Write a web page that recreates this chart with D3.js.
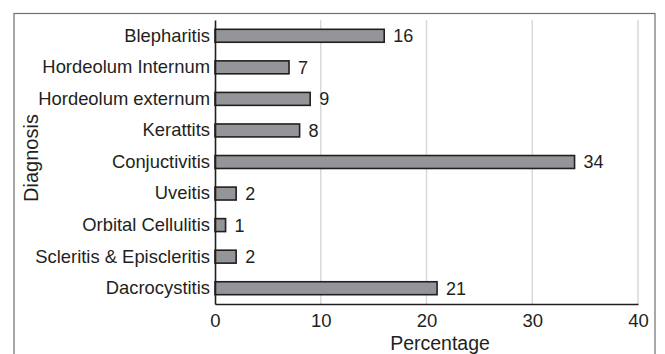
<!DOCTYPE html>
<html><head><meta charset="utf-8">
<script src="https://cdn.jsdelivr.net/npm/d3@7"></script>
<style>body{margin:0;background:#fff}svg{display:block}text{font-family:"Liberation Sans",Arial,sans-serif;fill:#231f20}</style>
</head><body><svg id="c" width="665" height="354"></svg>
<script>
const categories = ["Blepharitis","Hordeolum Internum","Hordeolum externum","Kerattits","Conjuctivitis","Uveitis","Orbital Cellulitis","Scleritis & Episcleritis","Dacrocystitis"];
const values = [16,7,9,8,34,2,1,2,21];
const xTicks = [0,10,20,30,40];
const xTitle = "Percentage";
const yTitle = "Diagnosis";

const svg = d3.select("#c");
svg.append("rect").attr("x",14).attr("y",13.5).attr("width",641).attr("height",400)
  .attr("fill","none").attr("stroke","#6d6e71").attr("stroke-width",1.2);
const m = {l:215,r:638,t:20,b:304};
const x = d3.scaleLinear().domain([0,40]).range([m.l,m.r]);
const y = d3.scaleBand().domain(categories).range([m.t,m.b]).paddingInner(0.59).paddingOuter(0.295);

svg.append("g").selectAll("line").data(xTicks.slice(1)).join("line")
  .attr("x1",d=>x(d)).attr("x2",d=>x(d)).attr("y1",m.t).attr("y2",m.b)
  .attr("stroke","#d9d9d9").attr("stroke-width",1.5);

svg.append("g").selectAll("rect").data(values).join("rect")
  .attr("x",x(0)).attr("y",(d,i)=>y(categories[i]))
  .attr("width",d=>x(d)-x(0)).attr("height",y.bandwidth())
  .attr("fill","#939598").attr("stroke","#231f20").attr("stroke-width",1.6);

svg.append("g").selectAll("text").data(values).join("text")
  .attr("x",d=>x(d)+9).attr("y",(d,i)=>y(categories[i])+y.bandwidth()/2)
  .attr("dy","0.36em").style("font-size","18px").text(d=>d);

const xa = svg.append("g").attr("transform",`translate(0,${m.b})`)
  .call(d3.axisBottom(x).tickValues(xTicks).tickSize(0).tickPadding(10));
xa.select(".domain").attr("stroke","#231f20").attr("stroke-width",1.6);
xa.selectAll("text").style("font-size","18.5px").style("font-family","Liberation Sans, Arial, sans-serif").style("fill","#231f20");

const ya = svg.append("g").attr("transform",`translate(${m.l},0)`)
  .call(d3.axisLeft(y).tickSize(0).tickPadding(5));
ya.select(".domain").attr("stroke","#231f20").attr("stroke-width",1.6);
ya.selectAll("text").style("font-size","18.4px").style("font-family","Liberation Sans, Arial, sans-serif").style("fill","#231f20");

svg.append("text").attr("x",440).attr("y",349.5).attr("text-anchor","middle").style("font-size","19.5px").text(xTitle);
svg.append("text").attr("transform","translate(38,158) rotate(-90)").attr("text-anchor","middle").style("font-size","20px").text(yTitle);
</script></body></html>
